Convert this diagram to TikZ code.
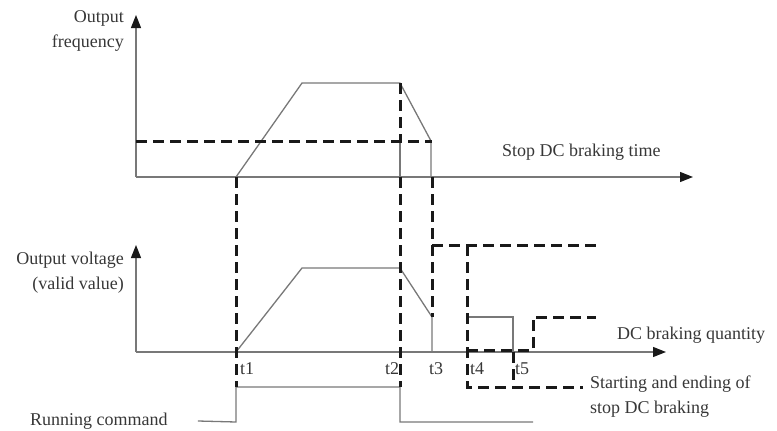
\documentclass[tikz,border=0pt]{standalone}
\usepackage{fontspec}
\setmainfont{Liberation Serif}
\usepackage{xcolor}
\usetikzlibrary{arrows.meta, positioning}
\definecolor{tracegray}{RGB}{120, 120, 120}
\definecolor{dashblack}{RGB}{25, 25, 25}
\definecolor{textgray}{RGB}{55, 55, 55}

\begin{document}
\begin{tikzpicture}[x=1pt, y=-1pt,
    axisline/.style={draw=tracegray, line width=1.3pt,
                     -{Triangle[length=13pt, width=10pt, color=dashblack]}},
    trace/.style={draw=tracegray, line width=1.3pt},
    brake/.style={draw=dashblack, line width=3pt, dash pattern=on 11pt off 6pt},
    caption/.style={font=\fontsize{18}{25}\selectfont, text=textgray, inner sep=0pt},
    tlabel/.style={caption, anchor=center}
]
    \useasboundingbox (0,0) rectangle (777,431);

    \coordinate (fo) at (136,177);
    \coordinate (vo) at (136,352);
    \draw[axisline] (fo) -- (136,15);
    \draw[axisline] (fo) -- (693,177);
    \draw[axisline] (vo) -- (136,245);
    \draw[axisline] (vo) -- (666,352);

    \node[caption, align=right, anchor=north east] (freqlabel) at (124,10) {Output\\frequency};
    \node[caption, align=right, anchor=north east] (voltlabel) at (124,252) {Output voltage\\(valid value)};
    \node[caption, anchor=west] (timelabel) at (502,152) {Stop DC braking time};
    \node[caption, anchor=west] (quantlabel) at (617,335) {DC braking quantity};
    \node[caption, align=left, anchor=north west] (startlabel) at (590,376) {Starting and ending of\\stop DC braking};
    \node[caption, anchor=west] (runlabel) at (30,421) {Running command};

    \node[tlabel] (tone) at (247,369) {t1};
    \node[tlabel] (ttwo) at (392,369) {t2};
    \node[tlabel] (tthree) at (436,369) {t3};
    \node[tlabel] (tfour) at (477,369) {t4};
    \node[tlabel] (tfive) at (522,369) {t5};

    \draw[trace] (236,177) -- (302,83) -- (400,83) -- (431,141) -- (431,177);
    \draw[trace] (400,141) -- (400,177);
    \draw[trace] (236,352) -- (302,268) -- (400,268) -- (432,317) -- (432,352);
    \draw[trace] (467,317) -- (513,317) -- (513,352);
    \draw[trace] ([xshift=30pt]runlabel.east) -- (236,422) -- (236,387)
        -- (400,387) -- (400,422) -- (533,422);

    \draw[brake] (136,141) -- (432,141);
    \draw[brake] (400,83) -- (400,141);
    \draw[brake] (236,177) -- (236,387);
    \draw[brake] (400,177) -- (400,387);
    \draw[brake] (432,177) -- (432,317);
    \draw[brake] (432,245) -- (600,245);
    \draw[brake] (467,245) -- (467,387) -- ([xshift=-7pt]startlabel.west |- 0,387);
    \draw[brake] (513,352) -- (513,387);
    \draw[brake] (467,350) -- (533,350) -- (533,317) -- (596,317);
\end{tikzpicture}
\end{document}
